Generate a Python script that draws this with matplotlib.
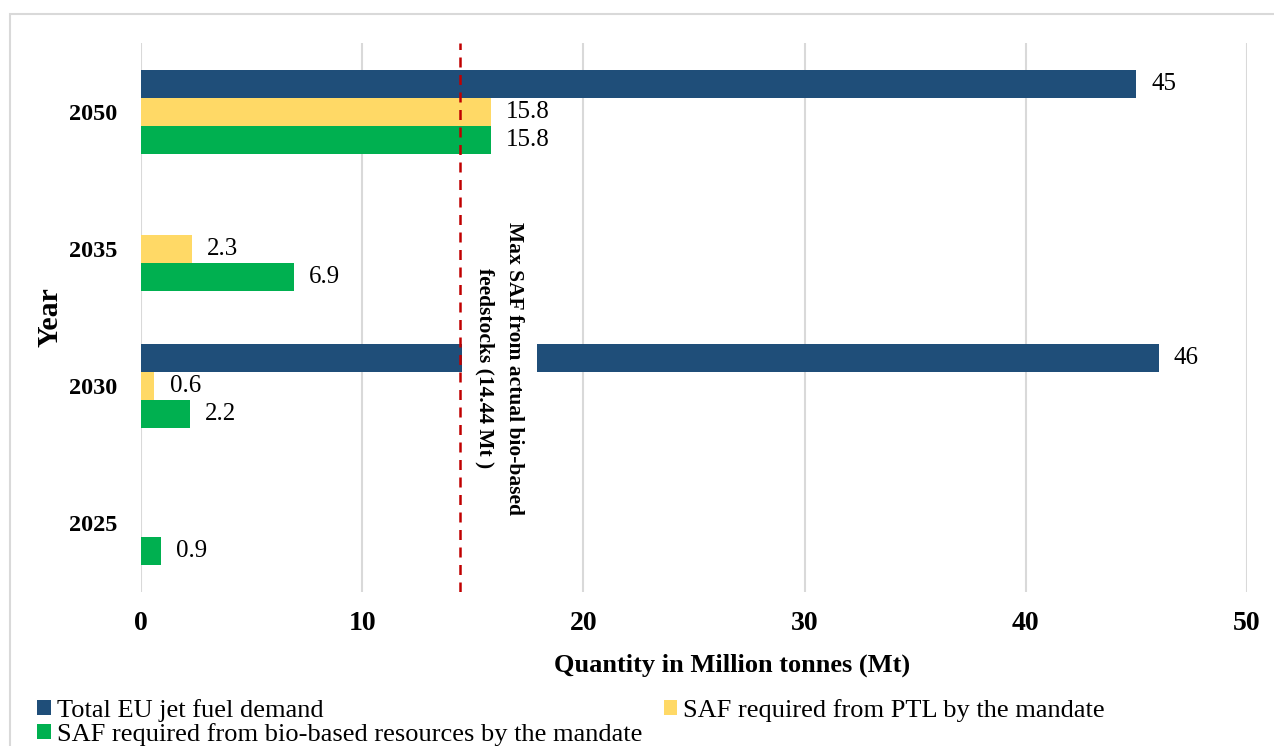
import numpy as np
import matplotlib
matplotlib.use("Agg")
import matplotlib.pyplot as plt
from matplotlib.patches import Rectangle

plt.rcParams["font.family"] = ["Liberation Serif", "DejaVu Serif"]

# data (bottom to top on the y axis)
years = ["2025", "2030", "2035", "2050"]
total_demand = [np.nan, 46, np.nan, 45]
saf_ptl = [np.nan, 0.6, 2.3, 15.8]
saf_bio = [0.9, 2.2, 6.9, 15.8]
bio_limit = 14.44

series_labels = [
    "Total EU jet fuel demand",
    "SAF required from PTL by the mandate",
    "SAF required from bio-based resources by the mandate",
]
colors = ["#1F4E79", "#FFD966", "#00B050"]

fig = plt.figure(figsize=(12.74, 7.46), dpi=100)
ax = fig.add_axes([0.1107, 0.2064, 0.8681, 0.736])

y = np.arange(len(years))
h = 0.204
bars = []
for k, (vals, col) in enumerate(zip([total_demand, saf_ptl, saf_bio], colors)):
    off = h * (1 - k)
    b = ax.barh(y + off, vals, height=h, color=col, zorder=2, label=series_labels[k])
    bars.append(b)
    for yy, v in zip(y + off, vals):
        if np.isnan(v):
            continue
        ax.annotate(f"{v:g}", xy=(v, yy), xytext=(11, 0), textcoords="offset points",
                    ha="left", va="center", fontsize=18, color="black")

# bio-based feedstock ceiling
ax.axvline(bio_limit, color="#C00000", ls=(0, (4, 3)), lw=1.8, zorder=4)
ax.text(16.2, 1.13, "Max SAF from actual bio-based\nfeedstocks (14.44 Mt )",
        rotation=270, ha="center", va="center", multialignment="center",
        fontsize=15.5, fontweight="bold", linespacing=1.6, zorder=3,
        bbox=dict(boxstyle="square,pad=0.6", fc="white", ec="none"))

ax.set_xlim(0, 50)
ax.set_ylim(-0.5, 3.5)
ax.set_xticks(np.arange(0, 51, 10))
ax.set_yticks(y)
ax.set_yticklabels(years)
ax.tick_params(length=0)
ax.tick_params(axis="x", pad=14, labelsize=20)
ax.tick_params(axis="y", pad=17, labelsize=17.5)
for lab in ax.get_xticklabels() + ax.get_yticklabels():
    lab.set_fontweight("bold")
ax.grid(axis="x", color="#d9d9d9", lw=1.5, zorder=0)
for s in ax.spines.values():
    s.set_visible(False)
ax.set_axisbelow(True)

ax.set_xlabel("Quantity in Million tonnes (Mt)", fontsize=19, fontweight="bold", labelpad=12)
ax.xaxis.label.set_x(0.534)
ax.set_ylabel("Year", fontsize=21.5, fontweight="bold", labelpad=4)

# legend: row-major order over two columns
handles = [bars[0], bars[2], bars[1]]
labels = [series_labels[0], series_labels[2], series_labels[1]]
fig.legend(handles, labels, loc="upper left", bbox_to_anchor=(0.021, 0.077),
           ncol=2, frameon=False, fontsize=19, handlelength=0.5, handleheight=0.5,
           handletextpad=0.25, columnspacing=0.8, labelspacing=0.02, borderaxespad=0)

# outer frame
fig.patches.append(Rectangle((10 / 1274, -0.2), 1.2, 1.2 - 14 / 746, transform=fig.transFigure,
                             fill=False, ec="#d9d9d9", lw=1.5))

fig.savefig("out.png", dpi=100)
